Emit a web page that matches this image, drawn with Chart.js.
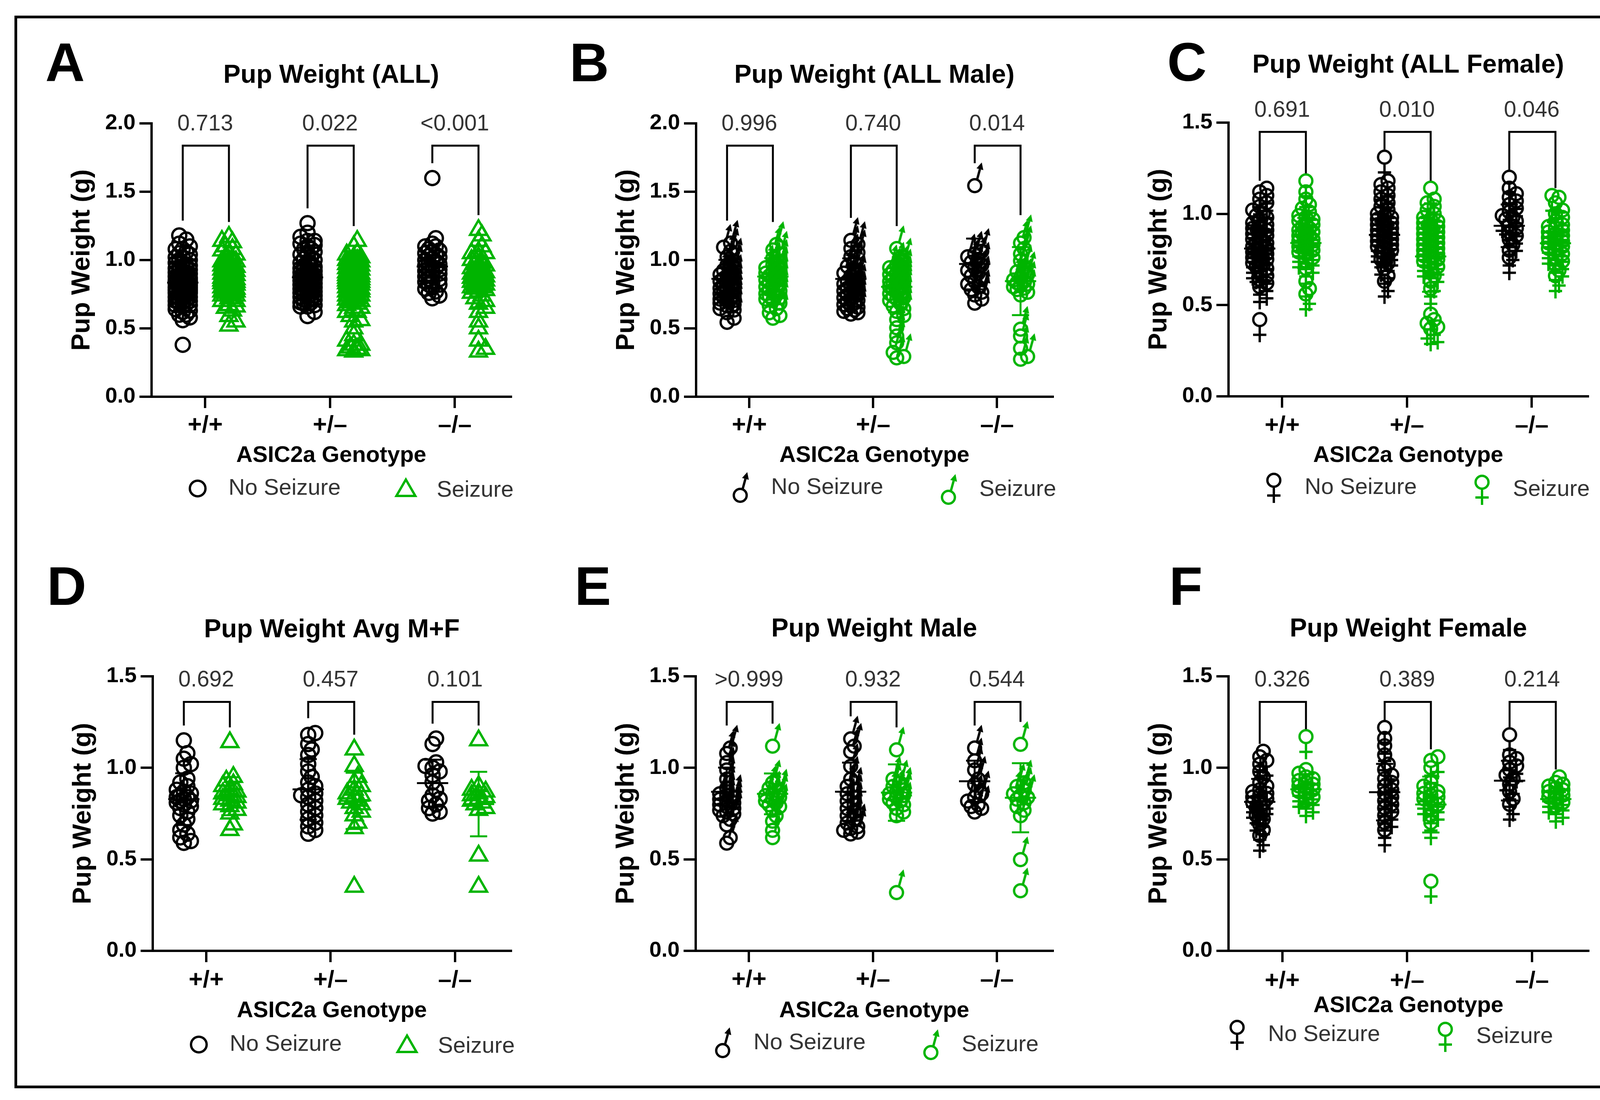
<!DOCTYPE html>
<html>
<head>
<meta charset="utf-8">
<script src="https://cdn.jsdelivr.net/npm/chart.js@4.4.1/dist/chart.umd.min.js"></script>
<style>
  html, body { margin: 0; padding: 0; background: #fff; }
  #page { position: relative; width: 4205px; height: 2817px; background: #fff; overflow: hidden; }
  #frame { position: absolute; left: 37px; top: 40px; width: 4120px; height: 2747px; border: 7px solid #000; box-sizing: border-box; }
  canvas { position: absolute; }
</style>
</head>
<body>
<div id="page"><div id="frame"></div></div>
<script>
// categories and labels
const genotypes = ['+/+', '+/–', '–/–'];
const seriesNames = ['No Seizure', 'Seizure'];

// p-values per panel
const pAll = ['0.713', '0.022', '<0.001'];
const pMale = ['0.996', '0.740', '0.014'];
const pFemale = ['0.691', '0.010', '0.046'];
const pAvg = ['0.692', '0.457', '0.101'];
const pAvgMale = ['>0.999', '0.932', '0.544'];
const pAvgFemale = ['0.326', '0.389', '0.214'];

// B: all male pups (g), one list per genotype
const maleNoSeizure = [
  [1.18, 1.15, 1.12, 1.08, 1.05, 1.02, 1.00, 0.98, 0.96, 0.95, 0.94, 0.93, 0.92, 0.91, 0.90, 0.89, 0.88, 0.87, 0.86, 0.85,
   0.85, 0.84, 0.83, 0.82, 0.81, 0.80, 0.79, 0.78, 0.78, 0.77, 0.76, 0.76, 0.74, 0.73, 0.72, 0.70, 0.69, 0.67, 0.63, 0.60],
  [1.20, 1.17, 1.14, 1.11, 1.08, 1.04, 1.01, 0.98, 0.96, 0.94, 0.92, 0.90, 0.89, 0.88, 0.87, 0.86, 0.85, 0.84,
   0.83, 0.82, 0.81, 0.80, 0.79, 0.78, 0.77, 0.76, 0.75, 0.74, 0.73, 0.72, 0.71, 0.70, 0.69, 0.68, 0.67, 0.66],
  [1.60, 1.12, 1.10, 1.08, 1.06, 1.04, 1.02, 1.00, 0.98, 0.96, 0.94, 0.92, 0.90, 0.88, 0.86, 0.84, 0.82, 0.80, 0.77, 0.74]
];
const maleSeizure = [
  [1.17, 1.13, 1.10, 1.07, 1.04, 1.02, 1.00, 0.99, 0.97, 0.96, 0.95, 0.94, 0.93, 0.92, 0.91, 0.90, 0.89, 0.88,
   0.87, 0.86, 0.85, 0.84, 0.83, 0.82, 0.81, 0.80, 0.79, 0.78, 0.77, 0.76, 0.74, 0.72, 0.70, 0.67, 0.65, 0.63],
  [1.14, 1.05, 1.02, 1.00, 0.99, 0.98, 0.97, 0.96, 0.95, 0.94, 0.93, 0.92, 0.91, 0.90, 0.90, 0.89, 0.88, 0.88, 0.87, 0.86,
   0.86, 0.85, 0.84, 0.84, 0.83, 0.82, 0.81, 0.80, 0.79, 0.78, 0.77, 0.76, 0.74, 0.72, 0.70, 0.68, 0.65, 0.62, 0.56, 0.50,
   0.45, 0.38, 0.35, 0.34],
  [1.22, 1.18, 1.14, 1.10, 1.05, 1.00, 0.97, 0.95, 0.93, 0.91, 0.90, 0.89, 0.88, 0.87, 0.86, 0.85, 0.84, 0.82, 0.80,
   0.55, 0.50, 0.41, 0.35, 0.33]
];

// C: all female pups (g)
const femaleNoSeizure = [
  [1.10, 1.08, 1.06, 1.04, 1.02, 1.00, 0.98, 0.96, 0.95, 0.94, 0.92, 0.91, 0.90, 0.89, 0.88, 0.87, 0.86, 0.85, 0.84, 0.83,
   0.82, 0.81, 0.80, 0.80, 0.79, 0.78, 0.77, 0.76, 0.75, 0.74, 0.73, 0.72, 0.71, 0.70, 0.69, 0.68, 0.67, 0.66, 0.64, 0.62,
   0.60, 0.58, 0.56, 0.38],
  [1.27, 1.14, 1.12, 1.10, 1.08, 1.06, 1.04, 1.02, 1.00, 0.98, 0.96, 0.95, 0.94, 0.93, 0.92, 0.91, 0.90, 0.89, 0.88,
   0.87, 0.86, 0.85, 0.84, 0.83, 0.82, 0.81, 0.80, 0.79, 0.78, 0.77, 0.76, 0.75, 0.73, 0.71, 0.69, 0.66, 0.62, 0.59],
  [1.16, 1.10, 1.07, 1.05, 1.03, 1.01, 0.99, 0.97, 0.95, 0.94, 0.93, 0.92, 0.90, 0.88, 0.86, 0.84, 0.82, 0.79, 0.76, 0.72]
];
const femaleSeizure = [
  [1.14, 1.08, 1.04, 1.01, 0.99, 0.97, 0.95, 0.94, 0.93, 0.92, 0.91, 0.90, 0.89, 0.88, 0.87, 0.86, 0.86, 0.85,
   0.84, 0.84, 0.83, 0.82, 0.81, 0.80, 0.79, 0.78, 0.77, 0.76, 0.75, 0.74, 0.72, 0.70, 0.66, 0.59, 0.55, 0.52],
  [1.10, 1.04, 1.02, 1.00, 0.98, 0.96, 0.94, 0.93, 0.92, 0.91, 0.90, 0.89, 0.88, 0.87, 0.86, 0.85, 0.84, 0.83, 0.82, 0.81,
   0.80, 0.79, 0.78, 0.77, 0.76, 0.75, 0.74, 0.73, 0.72, 0.71, 0.70, 0.69, 0.67, 0.65, 0.62, 0.59, 0.55, 0.41, 0.38, 0.36,
   0.34, 0.33],
  [1.06, 1.05, 1.02, 0.98, 0.96, 0.94, 0.92, 0.90, 0.89, 0.88, 0.87, 0.86, 0.85, 0.84, 0.83, 0.82, 0.81, 0.80, 0.79, 0.78,
   0.77, 0.76, 0.74, 0.72, 0.70, 0.68, 0.65, 0.62]
];

// A: all pups = male + female
const allNoSeizure = genotypes.map((g, i) => maleNoSeizure[i].concat(femaleNoSeizure[i]));
const allSeizure = genotypes.map((g, i) => maleSeizure[i].concat(femaleSeizure[i]));

// D: litter averages, male + female
const avgNoSeizure = [
  [1.15, 1.08, 1.05, 1.02, 1.00, 0.94, 0.92, 0.90, 0.88, 0.87, 0.86, 0.85, 0.84, 0.84, 0.83, 0.82, 0.82, 0.81, 0.80, 0.79,
   0.78, 0.76, 0.74, 0.72, 0.69, 0.66, 0.64, 0.62, 0.60, 0.59],
  [1.19, 1.18, 1.13, 1.10, 1.07, 1.02, 0.98, 0.95, 0.92, 0.90, 0.88, 0.86, 0.85, 0.84, 0.82, 0.80, 0.78, 0.76, 0.74, 0.72,
   0.70, 0.68, 0.66, 0.64],
  [1.16, 1.13, 1.03, 1.01, 1.00, 0.98, 0.96, 0.92, 0.88, 0.85, 0.83, 0.82, 0.80, 0.78, 0.76, 0.75]
];
const avgSeizure = [
  [1.14, 0.95, 0.93, 0.91, 0.90, 0.88, 0.87, 0.86, 0.85, 0.84, 0.83, 0.82, 0.81, 0.80, 0.79, 0.77, 0.75, 0.69, 0.66],
  [1.10, 1.01, 0.95, 0.92, 0.90, 0.88, 0.86, 0.85, 0.84, 0.83, 0.82, 0.81, 0.80, 0.78, 0.76, 0.74, 0.70, 0.67, 0.35],
  [1.15, 0.90, 0.88, 0.87, 0.86, 0.85, 0.84, 0.83, 0.82, 0.81, 0.80, 0.78, 0.77, 0.52, 0.35]
];

// E: litter averages, male
const avgMaleNoSeizure = [
  [1.15, 1.12, 1.07, 1.03, 0.98, 0.93, 0.90, 0.89, 0.88, 0.87, 0.86, 0.85, 0.84, 0.83, 0.82, 0.81, 0.80, 0.79, 0.78, 0.76,
   0.73, 0.66, 0.63],
  [1.20, 1.16, 1.13, 1.05, 0.98, 0.94, 0.92, 0.90, 0.88, 0.86, 0.84, 0.82, 0.80, 0.78, 0.76, 0.74, 0.72, 0.71, 0.70, 0.69, 0.68],
  [1.15, 1.08, 1.03, 0.98, 0.95, 0.90, 0.88, 0.86, 0.84, 0.83, 0.82, 0.80]
];
const avgMaleSeizure = [
  [1.16, 0.96, 0.93, 0.91, 0.90, 0.89, 0.88, 0.87, 0.86, 0.85, 0.84, 0.83, 0.81, 0.78, 0.75, 0.70, 0.66],
  [1.14, 0.98, 0.96, 0.94, 0.92, 0.91, 0.90, 0.89, 0.88, 0.87, 0.86, 0.85, 0.84, 0.82, 0.80, 0.78, 0.36],
  [1.17, 0.96, 0.94, 0.92, 0.90, 0.89, 0.88, 0.87, 0.85, 0.83, 0.81, 0.78, 0.54, 0.37]
];

// F: litter averages, female
const avgFemaleNoSeizure = [
  [1.05, 1.02, 1.00, 0.98, 0.94, 0.91, 0.88, 0.86, 0.84, 0.83, 0.82, 0.81, 0.80, 0.79, 0.78, 0.77, 0.76, 0.74, 0.72, 0.70,
   0.68, 0.65, 0.62, 0.59],
  [1.18, 1.12, 1.08, 1.03, 0.98, 0.95, 0.92, 0.90, 0.88, 0.86, 0.84, 0.82, 0.80, 0.78, 0.76, 0.74, 0.72, 0.70, 0.66, 0.62],
  [1.14, 1.03, 1.01, 0.99, 0.97, 0.95, 0.92, 0.90, 0.87, 0.83, 0.79, 0.76]
];
const avgFemaleSeizure = [
  [1.13, 0.95, 0.93, 0.91, 0.90, 0.89, 0.88, 0.87, 0.86, 0.85, 0.84, 0.83, 0.82, 0.80, 0.78],
  [1.02, 1.00, 0.96, 0.88, 0.86, 0.84, 0.83, 0.82, 0.81, 0.80, 0.79, 0.78, 0.76, 0.74, 0.70, 0.66, 0.34],
  [0.91, 0.88, 0.87, 0.86, 0.85, 0.84, 0.83, 0.82, 0.81, 0.80, 0.79, 0.77, 0.75]
];

const BLACK = '#000000';
const GREEN = '#00b400';
const FONT = "'Liberation Sans', Arial, sans-serif";
const X_MIN = -0.43, X_MAX = 2.45;
const SHIFT = [-0.18, 0.19];

Chart.defaults.font.family = FONT;
Chart.defaults.color = '#000';

// male / female glyphs used as point styles
function sexGlyph(kind, color) {
  const c = document.createElement('canvas');
  c.width = 64; c.height = 88;
  const g = c.getContext('2d');
  g.strokeStyle = color; g.fillStyle = color; g.lineWidth = 6;
  const ax = 32, ay = 44;
  if (kind === 'male') {
    const cy = ay + 19.5;
    g.beginPath(); g.arc(ax, cy, 16.5, 0, Math.PI * 2); g.stroke();
    const sx = ax + 16.5 * Math.cos(-1.2), sy = cy + 16.5 * Math.sin(-1.2);
    const tx = ax + 18, ty = ay - 40;
    const len = Math.hypot(tx - sx, ty - sy);
    const ux = (tx - sx) / len, uy = (ty - sy) / len;
    const bx = tx - 18 * ux, by = ty - 18 * uy;
    g.beginPath(); g.moveTo(sx, sy); g.lineTo(bx, by); g.stroke();
    g.beginPath();
    g.moveTo(tx, ty);
    g.lineTo(bx - uy * 9, by + ux * 9);
    g.lineTo(bx + uy * 9, by - ux * 9);
    g.closePath(); g.fill();
  } else {
    const cy = ay - 19;
    g.beginPath(); g.arc(ax, cy, 16.5, 0, Math.PI * 2); g.stroke();
    g.beginPath();
    g.moveTo(ax, cy + 16.5); g.lineTo(ax, ay + 39);
    g.moveTo(ax - 17, ay + 20); g.lineTo(ax + 17, ay + 20);
    g.stroke();
  }
  return c;
}
const glyphs = {
  male: [sexGlyph('male', BLACK), sexGlyph('male', GREEN)],
  female: [sexGlyph('female', BLACK), sexGlyph('female', GREEN)]
};

// simple beeswarm offsets in pixels
function swarm(vals, pxPerY) {
  const idx = vals.map((v, i) => i).sort((a, b) => vals[a] - vals[b]);
  const placed = [], off = [];
  idx.forEach(i => {
    const y = vals[i] * pxPerY;
    let best = 0, bestD = -1;
    for (const c of [0, 1, -1, 2, -2]) {
      const x = c * 9;
      let d = Infinity;
      placed.forEach(p => { if (Math.abs(p.y - y) < 16) d = Math.min(d, Math.hypot(p.x - x, p.y - y)); });
      if (d >= 16) { best = x; break; }
      if (d > bestD) { bestD = d; best = x; }
    }
    placed.push({ x: best, y: y });
    off[i] = best;
  });
  return off;
}

const mean = a => a.reduce((s, v) => s + v, 0) / a.length;
const stdev = a => { const m = mean(a); return Math.sqrt(a.reduce((s, v) => s + (v - m) * (v - m), 0) / (a.length - 1)); };

function drawSymbol(ctx, style, si, x, y) {
  const color = si ? GREEN : BLACK;
  if (style === 'shape') {
    ctx.save();
    ctx.strokeStyle = color; ctx.lineWidth = 6;
    ctx.beginPath();
    if (si === 0) {
      ctx.arc(x, y, 20, 0, Math.PI * 2);
    } else {
      const r = 28;
      ctx.moveTo(x, y - r);
      ctx.lineTo(x + r * 0.866, y + r * 0.5);
      ctx.lineTo(x - r * 0.866, y + r * 0.5);
      ctx.closePath();
    }
    ctx.stroke();
    ctx.restore();
  } else {
    const img = glyphs[style][si];
    ctx.drawImage(img, x - img.width / 2, y - img.height / 2);
  }
}

const panelDeco = {
  id: 'panelDeco',
  beforeDatasetsDraw(chart, args, o) {
    const { ctx, scales: { x, y } } = chart;
    chart.data.datasets.forEach(ds => {
      const m = mean(ds.raw), sd = stdev(ds.raw);
      const px = x.getPixelForValue(ds.xc);
      const ym = y.getPixelForValue(m), yh = y.getPixelForValue(m + sd), yl = y.getPixelForValue(m - sd);
      ctx.save();
      ctx.strokeStyle = ds.borderColor; ctx.lineWidth = 5;
      ctx.beginPath();
      ctx.moveTo(px - 40, ym); ctx.lineTo(px + 40, ym);
      ctx.moveTo(px, yl); ctx.lineTo(px, yh);
      ctx.moveTo(px - 22, yh); ctx.lineTo(px + 22, yh);
      ctx.moveTo(px - 22, yl); ctx.lineTo(px + 22, yl);
      ctx.stroke();
      ctx.restore();
    });
  },
  afterDraw(chart, args, o) {
    const { ctx, chartArea: a, scales: { x, y } } = chart;
    ctx.save();
    // panel letter
    ctx.fillStyle = '#000';
    ctx.font = 'bold 140px ' + FONT;
    ctx.textAlign = 'left'; ctx.textBaseline = 'alphabetic';
    ctx.fillText(o.letter, o.letterX - o.cx, o.letterY - o.cy);
    // title
    ctx.font = 'bold 66px ' + FONT;
    ctx.textAlign = 'center'; ctx.textBaseline = 'middle';
    ctx.fillText(o.title, (a.left + a.right) / 2, a.top + o.titleDy);
    // brackets and p-values
    const top = y.getPixelForValue(o.bracketTop);
    ctx.strokeStyle = '#000'; ctx.lineWidth = 5;
    genotypes.forEach((g, gi) => {
      const dsL = chart.data.datasets.find(d => d.grp === gi && d.side === 0);
      const dsR = chart.data.datasets.find(d => d.grp === gi && d.side === 1);
      const xl = x.getPixelForValue(dsL.xc), xr = x.getPixelForValue(dsR.xc);
      const bl = y.getPixelForValue(Math.max(...dsL.raw)) - 38;
      const br = y.getPixelForValue(Math.max(...dsR.raw)) - 38;
      ctx.beginPath();
      ctx.moveTo(xl, bl); ctx.lineTo(xl, top); ctx.lineTo(xr, top); ctx.lineTo(xr, br);
      ctx.stroke();
      ctx.fillStyle = '#333';
      ctx.font = '57px ' + FONT;
      ctx.fillText(o.pvals[gi], x.getPixelForValue(gi), top - 55);
    });
    // legend
    ctx.font = '58px ' + FONT;
    ctx.textAlign = 'left'; ctx.textBaseline = 'middle';
    ctx.fillStyle = '#333';
    [[0, o.legX, 0], [1, o.legX + 533, 5]].forEach(([si, dx, dy]) => {
      const sx = a.left + dx, sy = a.bottom + o.legY + dy;
      drawSymbol(ctx, o.style, si, sx, sy);
      ctx.fillText(seriesNames[si], sx + 79, sy);
    });
    ctx.restore();
  }
};

const panels = [
  { letter: 'A', title: 'Pup Weight (ALL)', cx: 48, cy: 50, cw: 1345, ch: 1340, L: 388, R: 1308, T: 316, B: 1016, ymax: 2,
    letterX: 116, letterY: 208, titleDy: -122, bracketTop: 1.837, legX: 118, legY: 235, xtDy: 151, xlDy: 74,
    style: 'shape', series: [allNoSeizure, allSeizure], pvals: pAll },
  { letter: 'B', title: 'Pup Weight (ALL Male)', cx: 1398, cy: 50, cw: 1350, ch: 1340, L: 1782, R: 2695, T: 316, B: 1016, ymax: 2,
    letterX: 1458, letterY: 208, titleDy: -122, bracketTop: 1.837, legX: 113, legY: 233, xtDy: 151, xlDy: 74,
    style: 'male', series: [maleNoSeizure, maleSeizure], pvals: pMale },
  { letter: 'C', title: 'Pup Weight (ALL Female)', cx: 2755, cy: 50, cw: 1390, ch: 1340, L: 3145, R: 4065, T: 314, B: 1015, ymax: 1.5,
    letterX: 2988, letterY: 207, titleDy: -146, bracketTop: 1.449, legX: 116, legY: 234, xtDy: 152, xlDy: 76,
    style: 'female', series: [femaleNoSeizure, femaleSeizure], pvals: pFemale },
  { letter: 'D', title: 'Pup Weight Avg M+F', cx: 48, cy: 1395, cw: 1345, ch: 1380, L: 391, R: 1308, T: 1732, B: 2435, ymax: 1.5,
    letterX: 120, letterY: 1549, titleDy: -118, bracketTop: 1.36, legX: 118, legY: 240, xtDy: 154, xlDy: 76,
    style: 'shape', series: [avgNoSeizure, avgSeizure], pvals: pAvg },
  { letter: 'E', title: 'Pup Weight Male', cx: 1398, cy: 1395, cw: 1350, ch: 1380, L: 1781, R: 2695, T: 1732, B: 2435, ymax: 1.5,
    letterX: 1471, letterY: 1549, titleDy: -120, bracketTop: 1.36, legX: 69, legY: 236, xtDy: 154, xlDy: 75,
    style: 'male', series: [avgMaleNoSeizure, avgMaleSeizure], pvals: pAvgMale },
  { letter: 'F', title: 'Pup Weight Female', cx: 2755, cy: 1395, cw: 1390, ch: 1380, L: 3145, R: 4066, T: 1732, B: 2435, ymax: 1.5,
    letterX: 2993, letterY: 1549, titleDy: -120, bracketTop: 1.36, legX: 22, legY: 215, xtDy: 141, xlDy: 78,
    style: 'female', series: [avgFemaleNoSeizure, avgFemaleSeizure], pvals: pAvgFemale }
];

function buildDatasets(p) {
  const pxPerY = (p.B - p.T) / p.ymax;
  const pxPerX = (p.R - p.L) / (X_MAX - X_MIN);
  const out = [];
  p.series.forEach((groups, si) => {
    const color = si ? GREEN : BLACK;
    groups.forEach((vals, gi) => {
      const off = swarm(vals, pxPerY);
      const xc = gi + SHIFT[si];
      let pointStyle, pointRadius;
      if (p.style === 'shape') { pointStyle = si ? 'triangle' : 'circle'; pointRadius = si ? 25 : 18; }
      else { pointStyle = glyphs[p.style][si]; pointRadius = 20; }
      out.push({
        label: seriesNames[si] + ' ' + genotypes[gi],
        grp: gi, side: si, raw: vals, xc: xc,
        data: vals.map((v, i) => ({ x: xc + off[i] / pxPerX, y: v })),
        pointStyle: pointStyle, pointRadius: pointRadius,
        borderColor: color, backgroundColor: 'rgba(0,0,0,0)', borderWidth: 6,
        showLine: false
      });
    });
  });
  return out;
}

const page = document.getElementById('page');
panels.forEach(p => {
  const cv = document.createElement('canvas');
  cv.width = p.cw; cv.height = p.ch;
  cv.style.left = p.cx + 'px'; cv.style.top = p.cy + 'px';
  cv.style.width = p.cw + 'px'; cv.style.height = p.ch + 'px';
  page.appendChild(cv);

  const yw = p.L - p.cx;
  const xh = 200;
  new Chart(cv.getContext('2d'), {
    type: 'scatter',
    data: { datasets: buildDatasets(p) },
    options: {
      responsive: false,
      animation: false,
      devicePixelRatio: 1,
      events: [],
      layout: { padding: { left: 0, top: p.T - p.cy, right: p.cx + p.cw - p.R, bottom: p.cy + p.ch - p.B - xh } },
      plugins: {
        legend: { display: false },
        tooltip: { enabled: false },
        panelDeco: {
          letter: p.letter, letterX: p.letterX, letterY: p.letterY, cx: p.cx, cy: p.cy,
          title: p.title, titleDy: p.titleDy, bracketTop: p.bracketTop, pvals: p.pvals,
          legX: p.legX, legY: p.legY, style: p.style
        }
      },
      scales: {
        x: {
          type: 'linear', min: X_MIN, max: X_MAX,
          afterBuildTicks: s => { s.ticks = genotypes.map((g, i) => ({ value: i })); },
          ticks: {
            callback: v => genotypes[v],
            font: { size: 62, weight: 'bold' }, color: '#000',
            padding: p.xlDy - 29 - 37, maxRotation: 0, autoSkip: false
          },
          grid: { drawOnChartArea: false, drawTicks: true, tickLength: 29, tickWidth: 6, tickColor: '#000', lineWidth: 6, color: '#000' },
          border: { display: true, color: '#000', width: 6 },
          title: { display: true, text: 'ASIC2a Genotype', color: '#000', font: { size: 58, weight: 'bold' },
                   padding: { top: 0, bottom: xh - p.xtDy - 35 } },
          afterFit: s => { s.height = xh; }
        },
        y: {
          min: 0, max: p.ymax,
          ticks: { stepSize: 0.5, callback: v => v.toFixed(1), font: { size: 56, weight: 'bold' }, color: '#000', padding: 10 },
          grid: { drawOnChartArea: false, drawTicks: true, tickLength: 31, tickWidth: 6, tickColor: '#000', lineWidth: 6, color: '#000' },
          border: { display: true, color: '#000', width: 6 },
          title: { display: true, text: 'Pup Weight (g)', color: '#000', font: { size: 66, weight: 'bold' },
                   padding: { top: yw - 177 - 40, bottom: 0 } },
          afterFit: s => { s.width = yw; }
        }
      }
    },
    plugins: [panelDeco]
  });
});
</script>
</body>
</html>
